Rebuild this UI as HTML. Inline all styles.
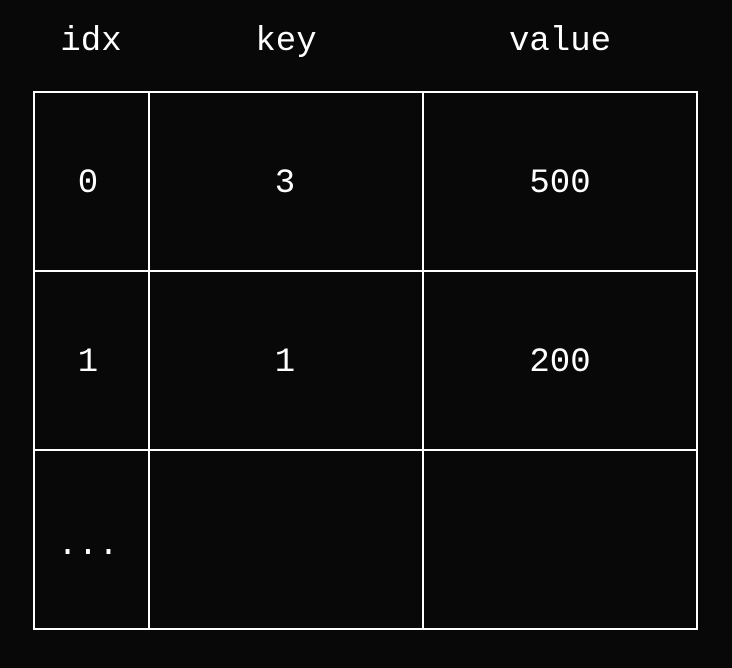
<!DOCTYPE html>
<html><head><style>
html,body{margin:0;padding:0;background:#080808;}
svg{display:block;}
text{font-family:"Liberation Mono","DejaVu Sans Mono",monospace;font-size:34px;fill:#ffffff;text-anchor:middle;}
</style></head><body>
<svg width="732" height="668" viewBox="0 0 732 668">
<rect width="732" height="668" fill="#080808"/>
<g stroke="#ffffff" stroke-width="2" fill="none">
<rect x="34" y="92" width="663" height="537"/>
<line x1="149" y1="92" x2="149" y2="629"/>
<line x1="423" y1="92" x2="423" y2="629"/>
<line x1="34" y1="271" x2="697" y2="271"/>
<line x1="34" y1="450" x2="697" y2="450"/>
</g>
<text x="91" y="50">idx</text>
<text x="286" y="50">key</text>
<text x="560" y="50">value</text>
<text x="88" y="192">0</text>
<text x="285" y="192">3</text>
<text x="560" y="192">500</text>
<text x="88" y="371">1</text>
<text x="285" y="371">1</text>
<text x="560" y="371">200</text>
<text x="88" y="554">...</text>
</svg>
</body></html>
